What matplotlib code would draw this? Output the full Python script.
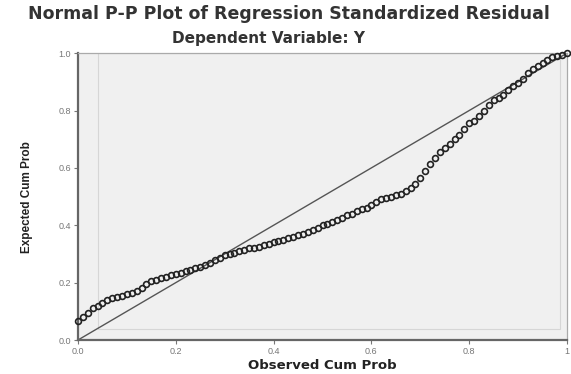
import matplotlib
matplotlib.use("Agg")
import matplotlib.pyplot as plt
from matplotlib.patches import Rectangle

# Normal P-P plot (SPSS style)

observed = [
    0.00, 0.01, 0.02, 0.03, 0.04, 0.05, 0.06, 0.07, 0.08, 0.09,
    0.10, 0.11, 0.12, 0.13, 0.14, 0.15, 0.16, 0.17, 0.18, 0.19,
    0.20, 0.21, 0.22, 0.23, 0.24, 0.25, 0.26, 0.27, 0.28, 0.29,
    0.30, 0.31, 0.32, 0.33, 0.34, 0.35, 0.36, 0.37, 0.38, 0.39,
    0.40, 0.41, 0.42, 0.43, 0.44, 0.45, 0.46, 0.47, 0.48, 0.49,
    0.50, 0.51, 0.52, 0.53, 0.54, 0.55, 0.56, 0.57, 0.58, 0.59,
    0.60, 0.61, 0.62, 0.63, 0.64, 0.65, 0.66, 0.67, 0.68, 0.69,
    0.70, 0.71, 0.72, 0.73, 0.74, 0.75, 0.76, 0.77, 0.78, 0.79,
    0.80, 0.81, 0.82, 0.83, 0.84, 0.85, 0.86, 0.87, 0.88, 0.89,
    0.90, 0.91, 0.92, 0.93, 0.94, 0.95, 0.96, 0.97, 0.98, 0.99,
    1.00,
]
expected = [
    0.065, 0.080, 0.095, 0.110, 0.120, 0.130, 0.140, 0.145, 0.150, 0.155,
    0.160, 0.165, 0.170, 0.180, 0.195, 0.205, 0.210, 0.215, 0.220, 0.225,
    0.230, 0.235, 0.240, 0.245, 0.250, 0.255, 0.260, 0.270, 0.280, 0.285,
    0.295, 0.300, 0.305, 0.310, 0.315, 0.320, 0.322, 0.325, 0.330, 0.335,
    0.340, 0.345, 0.350, 0.355, 0.360, 0.365, 0.370, 0.375, 0.385, 0.390,
    0.400, 0.405, 0.410, 0.420, 0.425, 0.435, 0.440, 0.450, 0.455, 0.460,
    0.470, 0.480, 0.490, 0.495, 0.500, 0.505, 0.510, 0.520, 0.530, 0.545,
    0.565, 0.590, 0.615, 0.635, 0.655, 0.670, 0.685, 0.700, 0.715, 0.735,
    0.755, 0.765, 0.780, 0.800, 0.820, 0.835, 0.845, 0.855, 0.870, 0.885,
    0.895, 0.910, 0.930, 0.945, 0.955, 0.965, 0.975, 0.985, 0.990, 0.995,
    1.000,
]
tick_vals = [0.0, 0.2, 0.4, 0.6, 0.8, 1.0]
x_tick_labels = ["0.0", "0.2", "0.4", "0.6", "0.8", "1"]
y_tick_labels = ["0.0", "0.2", "0.4", "0.6", "0.8", "1.0"]

plt.rcParams["font.family"] = ["Liberation Sans", "DejaVu Sans"]

fig = plt.figure(figsize=(5.71, 3.74), dpi=100)
ax = fig.add_axes([0.1366, 0.0909, 0.8564, 0.767])
ax.set_facecolor("#f0f0f0")

# inner frame like SPSS chart area
ax.add_patch(Rectangle((0.04, 0.04), 0.945, 0.96, transform=ax.transAxes,
                       fill=False, edgecolor="#d6d6d6", lw=0.8, zorder=1))

ax.plot([0, 1], [0, 1], color="#555555", lw=1.0, zorder=2)
ax.plot(observed, expected, "o", ms=4.2, mfc="none", mec="#222222",
        mew=1.2, zorder=3, clip_on=False)

ax.set_xlim(0, 1)
ax.set_ylim(0, 1)
ax.set_xticks(tick_vals)
ax.set_xticklabels(x_tick_labels)
ax.set_yticks(tick_vals)
ax.set_yticklabels(y_tick_labels)
ax.tick_params(axis="both", length=3, width=0.8, color="#777777",
               labelsize=6.5, labelcolor="#777777", pad=2)

for side in ["left", "bottom"]:
    ax.spines[side].set_color("#666666")
    ax.spines[side].set_linewidth(1.6)
for side in ["top", "right"]:
    ax.spines[side].set_color("#aaaaaa")
    ax.spines[side].set_linewidth(0.9)

ax.set_xlabel("Observed Cum Prob", fontsize=9.5, fontweight="bold",
              family="DejaVu Sans", color="#222222", labelpad=2)
ax.set_ylabel("Expected Cum Prob", fontsize=8.5, fontweight="bold",
              color="#222222", labelpad=18)

fig.text(0.506, 0.962, "Normal P-P Plot of Regression Standardized Residual",
         ha="center", va="center", fontsize=12.5, fontweight="bold",
         family="DejaVu Sans", color="#333333")
fig.text(0.470, 0.897, "Dependent Variable: Y",
         ha="center", va="center", fontsize=11, fontweight="bold",
         family="DejaVu Sans", color="#333333")

fig.savefig("out.png", dpi=100)
